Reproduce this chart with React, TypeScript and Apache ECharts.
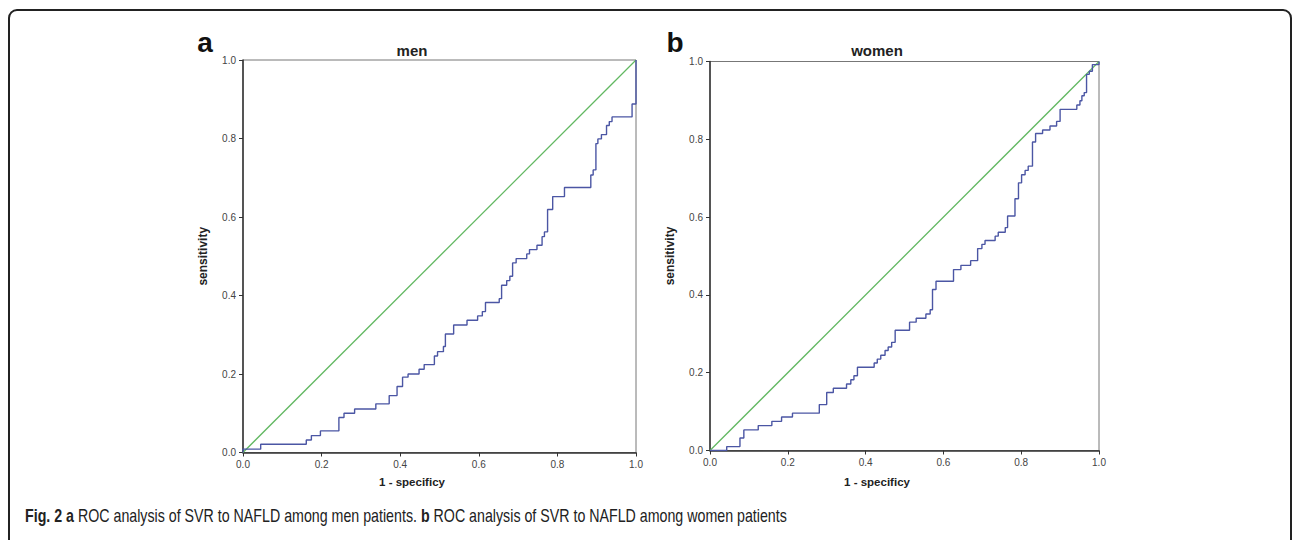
import React, { useEffect, useRef } from "react";
import * as echarts from "echarts";

// ROC curve for men: false positive rate (1 - specificity) and sensitivity
const menFpr = [0, 0, 0.045, 0.161, 0.174, 0.197, 0.244, 0.257, 0.284, 0.338, 0.372, 0.392, 0.406, 0.42, 0.448, 0.461, 0.487, 0.495, 0.51, 0.515, 0.536, 0.57, 0.597, 0.609, 0.617, 0.652, 0.658, 0.671, 0.679, 0.686, 0.695, 0.722, 0.729, 0.748, 0.761, 0.767, 0.775, 0.788, 0.818, 0.885, 0.891, 0.898, 0.903, 0.912, 0.925, 0.932, 0.939, 0.99, 1.0];
const menTpr = [0, 0.0085, 0.021, 0.032, 0.043, 0.055, 0.089, 0.1, 0.111, 0.124, 0.145, 0.168, 0.192, 0.2, 0.212, 0.224, 0.246, 0.257, 0.27, 0.302, 0.325, 0.337, 0.348, 0.359, 0.382, 0.392, 0.426, 0.438, 0.449, 0.483, 0.494, 0.506, 0.517, 0.528, 0.55, 0.562, 0.619, 0.652, 0.675, 0.707, 0.72, 0.787, 0.799, 0.81, 0.833, 0.843, 0.855, 0.888, 1.0];

// ROC curve for women
const womenFpr = [0, 0.043, 0.077, 0.087, 0.124, 0.159, 0.184, 0.212, 0.281, 0.3, 0.317, 0.351, 0.362, 0.37, 0.379, 0.422, 0.43, 0.439, 0.45, 0.458, 0.467, 0.476, 0.513, 0.53, 0.555, 0.566, 0.572, 0.581, 0.626, 0.645, 0.67, 0.688, 0.699, 0.707, 0.733, 0.741, 0.759, 0.765, 0.784, 0.793, 0.801, 0.81, 0.818, 0.829, 0.837, 0.855, 0.874, 0.891, 0.9, 0.943, 0.951, 0.956, 0.962, 0.968, 0.975, 0.983, 1.0];
const womenTpr = [0, 0.01, 0.032, 0.053, 0.064, 0.075, 0.086, 0.096, 0.118, 0.149, 0.16, 0.171, 0.182, 0.192, 0.214, 0.225, 0.235, 0.245, 0.257, 0.266, 0.278, 0.309, 0.33, 0.34, 0.351, 0.362, 0.414, 0.435, 0.465, 0.476, 0.488, 0.519, 0.53, 0.54, 0.551, 0.561, 0.573, 0.603, 0.647, 0.688, 0.709, 0.72, 0.731, 0.793, 0.815, 0.824, 0.834, 0.846, 0.877, 0.888, 0.899, 0.912, 0.92, 0.967, 0.975, 0.992, 1.0];

// Reference diagonal
const diagX = [0, 1];
const diagY = [0, 1];

const panelTitles = ["men", "women"];
const panelLetters = ["a", "b"];
const xAxisName = "1 - specificy";
const yAxisName = "sensitivity";
const captionText =
  "{b|Fig. 2} {b|a} ROC analysis of SVR to NAFLD among men patients. {b|b} ROC analysis of SVR to NAFLD among women patients";

const BLUE = "#4b56a4";
const GREEN = "#62b862";

function zip(xs: number[], ys: number[]) {
  return xs.map((x, i) => [x, ys[i]]);
}

export default function App() {
  const ref = useRef<HTMLDivElement>(null);

  useEffect(() => {
    if (!ref.current) return;
    const chart = echarts.init(ref.current, null, { renderer: "svg" });

    const grids = [
      { left: 243, top: 60, width: 393, height: 392.5 },
      { left: 710, top: 61.5, width: 389, height: 389 },
    ];

    const axisCommon = {
      type: "value" as const,
      min: 0,
      max: 1,
      interval: 0.2,
      splitLine: { show: false },
      axisLine: { show: true, lineStyle: { color: "#333", width: 1.5 } },
      axisTick: { show: true, inside: false, length: 4, lineStyle: { color: "#333", width: 1 } },
      axisLabel: {
        color: "#444",
        fontSize: 10,
        fontFamily: "Liberation Sans, Arial, sans-serif",
        formatter: (v: number) => v.toFixed(1),
      },
    };

    const xAxes = grids.map((_, i) => ({
      ...axisCommon,
      gridIndex: i,
      position: "bottom",
      axisLabel: { ...axisCommon.axisLabel, margin: 7 },
    }));
    const yAxes = grids.map((_, i) => ({
      ...axisCommon,
      gridIndex: i,
      position: "left",
      axisLabel: { ...axisCommon.axisLabel, margin: 7 },
    }));

    const series: any[] = [];
    const datasets = [zip(menFpr, menTpr), zip(womenFpr, womenTpr)];
    grids.forEach((_, i) => {
      series.push({
        type: "line",
        xAxisIndex: i,
        yAxisIndex: i,
        data: zip(diagX, diagY),
        showSymbol: false,
        lineStyle: { color: GREEN, width: 1.3 },
        silent: true,
        z: 2,
      });
      series.push({
        type: "line",
        xAxisIndex: i,
        yAxisIndex: i,
        data: datasets[i],
        step: "end",
        showSymbol: false,
        lineStyle: { color: BLUE, width: 1.4 },
        silent: true,
        z: 3,
      });
    });

    const textFont = "Liberation Sans, Arial, sans-serif";
    const graphics: any[] = [
      {
        type: "rect",
        shape: { x: 9, y: 10, width: 1282, height: 600, r: 8 },
        style: { fill: "none", stroke: "#222", lineWidth: 2 },
        silent: true,
      },
    ];
    const titleCenters = [412, 877];
    titleCenters.forEach((cx, i) => {
      graphics.push({
        type: "text",
        x: cx,
        y: 50,
        style: {
          text: panelTitles[i],
          fontSize: 15,
          fontWeight: "bold",
          fontFamily: textFont,
          fill: "#222",
          textAlign: "center",
          textVerticalAlign: "middle",
        },
      });
      graphics.push({
        type: "text",
        x: cx,
        y: 482,
        style: {
          text: xAxisName,
          fontSize: 11.5,
          fontWeight: "bold",
          fontFamily: textFont,
          fill: "#222",
          textAlign: "center",
          textVerticalAlign: "middle",
        },
      });
    });
    const letterX = [205, 675];
    letterX.forEach((lx, i) => {
      graphics.push({
        type: "text",
        x: lx,
        y: 42,
        style: {
          text: panelLetters[i],
          fontSize: 28,
          fontWeight: "bold",
          fontFamily: textFont,
          fill: "#111",
          textAlign: "center",
          textVerticalAlign: "middle",
        },
      });
    });
    const yNameX = [203, 670];
    yNameX.forEach((yx, i) => {
      graphics.push({
        type: "text",
        x: yx,
        y: grids[i].top + grids[i].height / 2,
        rotation: Math.PI / 2,
        style: {
          text: yAxisName,
          fontSize: 12,
          fontWeight: "bold",
          fontFamily: textFont,
          fill: "#222",
          textAlign: "center",
          textVerticalAlign: "middle",
        },
      });
    });
    graphics.push({
      type: "text",
      x: 25,
      y: 515,
      scaleX: 0.79,
      style: {
        text: captionText,
        fontSize: 18,
        fontFamily: textFont,
        fill: "#222",
        textVerticalAlign: "middle",
        rich: {
          b: {
            fontSize: 18,
            fontWeight: "bold",
            fontFamily: textFont,
            fill: "#222",
          },
        },
      },
    });

    chart.setOption({
      animation: false,
      backgroundColor: "#ffffff",
      grid: grids.map((g) => ({
        ...g,
        show: true,
        borderColor: "#777",
        borderWidth: 1,
        backgroundColor: "transparent",
      })),
      xAxis: xAxes,
      yAxis: yAxes,
      series,
      graphic: graphics,
    });

    return () => chart.dispose();
  }, []);

  return (
    <div
      ref={ref}
      style={{ position: "absolute", left: 0, top: 0, width: 1292, height: 540 }}
    />
  );
}
